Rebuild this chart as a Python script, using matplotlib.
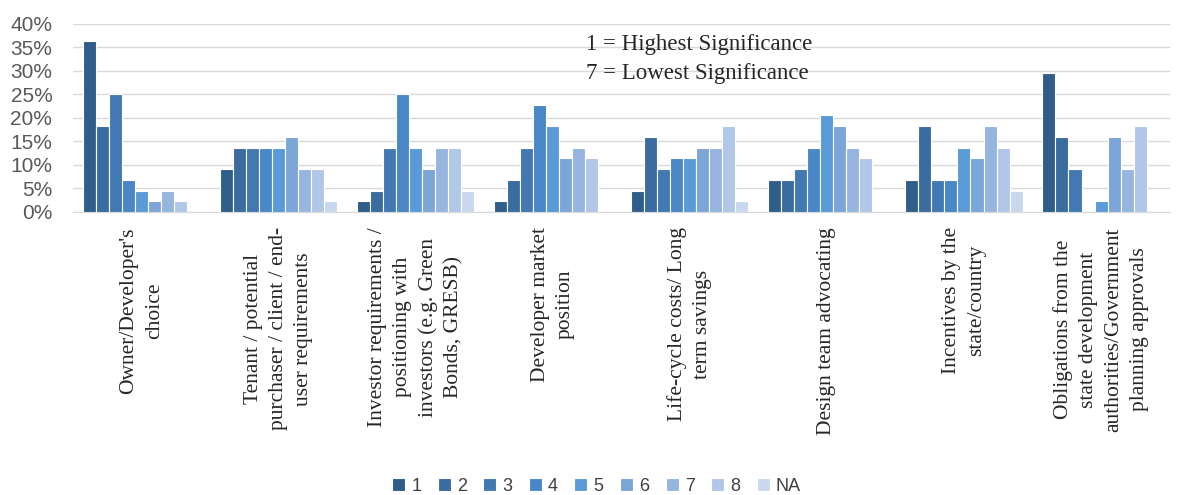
import numpy as np
import matplotlib.pyplot as plt
from matplotlib.ticker import PercentFormatter

categories = [
    "Owner/Developer's\nchoice",
    "Tenant / potential\npurchaser / client / end-\nuser requirements",
    "Investor requirements /\npositioning with\ninvestors (e.g. Green\nBonds, GRESB)",
    "Developer market\nposition",
    "Life-cycle costs/ Long\nterm savings",
    "Design team advocating",
    "Incentives by the\nstate/country",
    "Obligations from the\nstate development\nauthorities/Government\nplanning approvals",
]
series_names = ["1", "2", "3", "4", "5", "6", "7", "8", "NA"]

# percent of respondents per rank, one list per rank (across categories)
rank_1 = [36.4, 9.1, 2.3, 2.3, 4.5, 6.8, 6.8, 29.5]
rank_2 = [18.2, 13.6, 4.5, 6.8, 15.9, 6.8, 18.2, 15.9]
rank_3 = [25.0, 13.6, 13.6, 13.6, 9.1, 9.1, 6.8, 9.1]
rank_4 = [6.8, 13.6, 25.0, 22.7, 11.4, 13.6, 6.8, 0.0]
rank_5 = [4.5, 13.6, 13.6, 18.2, 11.4, 20.5, 13.6, 2.3]
rank_6 = [2.3, 15.9, 9.1, 11.4, 13.6, 18.2, 11.4, 15.9]
rank_7 = [4.5, 9.1, 13.6, 13.6, 13.6, 13.6, 18.2, 9.1]
rank_8 = [2.3, 9.1, 13.6, 11.4, 18.2, 11.4, 13.6, 18.2]
rank_na = [0.0, 2.3, 4.5, 0.0, 2.3, 0.0, 4.5, 0.0]
all_series = [rank_1, rank_2, rank_3, rank_4, rank_5, rank_6, rank_7, rank_8, rank_na]

colors = ['#2F5E8A', '#3A6C9F', '#4279B3', '#4A87C6', '#5A9AD6',
          '#7BA6D7', '#97B6DF', '#B1C7E7', '#CAD8EE']

fig = plt.figure(figsize=(11.79, 4.95), dpi=100)
ax = fig.add_axes([0.062, 0.572, 0.93, 0.38])

x = np.arange(len(categories))
n = len(all_series)
w = 0.855 / n
for i, vals in enumerate(all_series):
    ax.bar(x - 0.855 / 2 + w * (i + 0.5), vals, width=w, color=colors[i],
           edgecolor='white', linewidth=0.8, label=series_names[i], zorder=3)

ax.set_xlim(-0.5, len(categories) - 0.5)
ax.set_ylim(0, 40)
ax.set_yticks(np.arange(0, 41, 5))
ax.yaxis.set_major_formatter(PercentFormatter(decimals=0))
ax.grid(axis='y', color='#D9D9D9', linewidth=1, zorder=0)
for s in ['top', 'right', 'left']:
    ax.spines[s].set_visible(False)
ax.spines['bottom'].set_color('#D9D9D9')
ax.tick_params(axis='both', length=0)
ax.tick_params(axis='y', labelsize=15, labelcolor='#595959', pad=15)
for t in ax.get_yticklabels():
    t.set_family('Liberation Sans')

ax.set_xticks(x)
ax.set_xticklabels(categories, rotation=90, ha='center', va='top',
                   multialignment='center', family='Liberation Serif',
                   fontsize=15.5, color='#262626', linespacing=1.45)
ax.tick_params(axis='x', pad=11)

ax.text(0.571, 0.89, "1 = Highest Significance", transform=ax.transAxes,
        ha='center', va='center', family='Liberation Serif', fontsize=16.5,
        color='#262626')
ax.text(0.569, 0.735, "7 = Lowest Significance", transform=ax.transAxes,
        ha='center', va='center', family='Liberation Serif', fontsize=16.5,
        color='#262626')

fig.legend(loc='center', bbox_to_anchor=(0.506, 0.018), ncol=9,
           frameon=False, prop={'family': 'Liberation Sans', 'size': 13},
           handlelength=0.72, handleheight=0.72, handletextpad=0.35,
           columnspacing=0.9, labelcolor='#404040')

plt.savefig('out.png', dpi=100)
